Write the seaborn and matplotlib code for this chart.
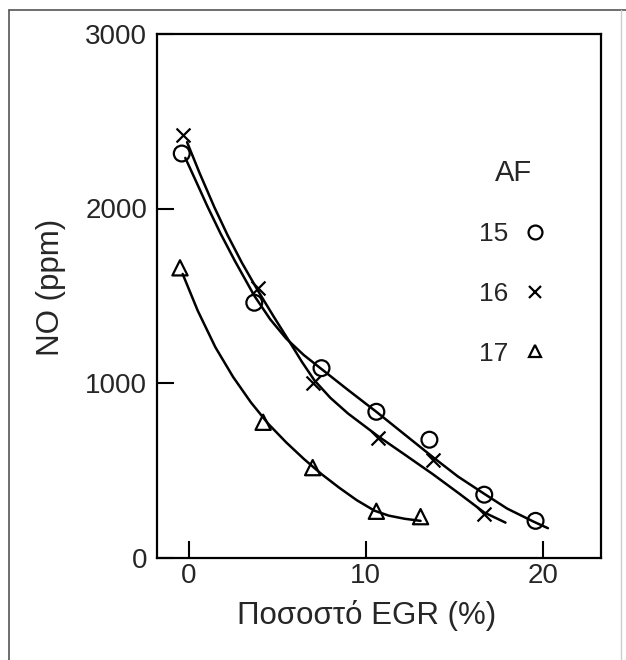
import numpy as np
import pandas as pd
import seaborn as sns
import matplotlib
matplotlib.use("Agg")
import matplotlib.pyplot as plt
from matplotlib.lines import Line2D

# ---- data ----
egr_15 = [-0.4, 3.7, 7.5, 10.6, 13.6, 16.7, 19.6]
no_15 = [2315, 1460, 1085, 835, 675, 360, 210]
egr_16 = [-0.35, 3.9, 7.0, 10.7, 13.8, 16.7]
no_16 = [2420, 1545, 1000, 685, 560, 250]
egr_17 = [-0.5, 4.2, 7.0, 10.6, 13.1]
no_17 = [1660, 775, 515, 265, 234]

# traced fitted curves
curve15_x = [-0.2, 0.5, 1.06, 1.8, 2.6, 3.7, 4.6, 5.5, 6.5, 7.5, 9.0, 10.6,
             12.2, 13.8, 15.2, 16.7, 18.0, 19.5, 20.3]
curve15_y = [2290, 2135, 2010, 1855, 1700, 1500, 1365, 1255, 1160, 1080, 960, 835,
             705, 575, 465, 365, 280, 205, 168]
curve16_x = [-0.1, 0.6, 1.44, 2.2, 3.0, 3.9, 4.8, 5.7, 6.4, 7.1, 8.0, 9.0, 10.7,
             12.2, 13.8, 15.3, 16.7, 17.9]
curve16_y = [2380, 2205, 2008, 1845, 1689, 1530, 1380, 1235, 1120, 1015, 915, 825, 695,
             590, 477, 365, 258, 200]
curve17_x = [-0.35, 0.5, 1.5, 2.5, 3.5, 4.5, 5.5, 6.5, 7.5, 8.5, 9.5, 10.5,
             11.3, 12.2, 13.1]
curve17_y = [1625, 1415, 1205, 1035, 890, 765, 660, 565, 478, 400, 328, 268,
             240, 222, 210]

x_ticks = [0, 10, 20]
y_ticks = [0, 1000, 2000, 3000]
legend_title = "AF"
legend_labels = ["15", "16", "17"]
x_label = "Ποσοστό EGR (%)"
y_label = "NO (ppm)"

sns.set_theme(style="white")
plt.rcParams["font.family"] = ["Liberation Sans", "DejaVu Sans"]
txt = "#262626"

W, H = 626, 660
fig = plt.figure(figsize=(W / 100, H / 100), dpi=100)
fig.patch.set_facecolor("white")
ax = fig.add_axes([157 / W, 1 - 557.5 / H, (601 - 157) / W, (557.5 - 34) / H])

lw = 1.8
for cx, cy in [(curve15_x, curve15_y), (curve16_x, curve16_y), (curve17_x, curve17_y)]:
    sns.lineplot(x=cx, y=cy, sort=False, estimator=None, color="black", lw=lw, ax=ax)

sns.scatterplot(x=egr_15, y=no_15, marker="o", s=130, facecolor="none",
                edgecolor="black", linewidth=1.6, ax=ax, zorder=5)
sns.scatterplot(x=egr_16, y=no_16, marker="x", s=100, color="black",
                linewidth=1.6, ax=ax, zorder=5)
sns.scatterplot(x=egr_17, y=no_17, marker="^", s=120, facecolor="none",
                edgecolor="black", linewidth=1.6, ax=ax, zorder=5)

ax.set_xlim(-1.8, 23.3)
ax.set_ylim(0, 3000)
ax.set_xticks(x_ticks)
ax.set_yticks(y_ticks)
ax.tick_params(axis="both", direction="in", length=12, width=1.5, color="black",
               labelsize=20, labelcolor=txt, pad=7, bottom=True, left=True)
ax.tick_params(axis="x", pad=4)
for s in ax.spines.values():
    s.set_color("black")
    s.set_linewidth(1.6)

ax.set_xlabel(x_label, fontsize=22.5, color=txt)
ax.set_ylabel(y_label, fontsize=22.5, color=txt)
ax.xaxis.set_label_coords((367 - 157) / 444, -0.082)
ax.yaxis.set_label_coords(-0.205, 0.516)

handles = [
    Line2D([], [], marker="o", ls="none", mfc="none", mec="black", ms=10, mew=1.6),
    Line2D([], [], marker="x", ls="none", color="black", ms=9, mew=1.6),
    Line2D([], [], marker="^", ls="none", mfc="none", mec="black", ms=9, mew=1.6),
]
leg = ax.legend(handles, legend_labels, title=legend_title, markerfirst=False,
                frameon=False, fontsize=19, title_fontsize=21, labelspacing=1.35,
                handlelength=1.0, handletextpad=0.5, loc="upper left",
                bbox_to_anchor=((455 - 157) / 444, 1 - (135 - 34) / 523.5))
for t in leg.get_texts():
    t.set_color(txt)
leg.get_title().set_color(txt)

# outer frame of the figure
fig.add_artist(Line2D([9 / W, 9 / W], [0, 1 - 10 / H], color="#555555", lw=1.2))
fig.add_artist(Line2D([9 / W, 1], [1 - 10 / H, 1 - 10 / H], color="#555555", lw=1.2))
fig.add_artist(Line2D([621 / W, 621 / W], [0, 1 - 10 / H], color="#cccccc", lw=1.0))

fig.savefig("out.png", dpi=100, facecolor="white")
